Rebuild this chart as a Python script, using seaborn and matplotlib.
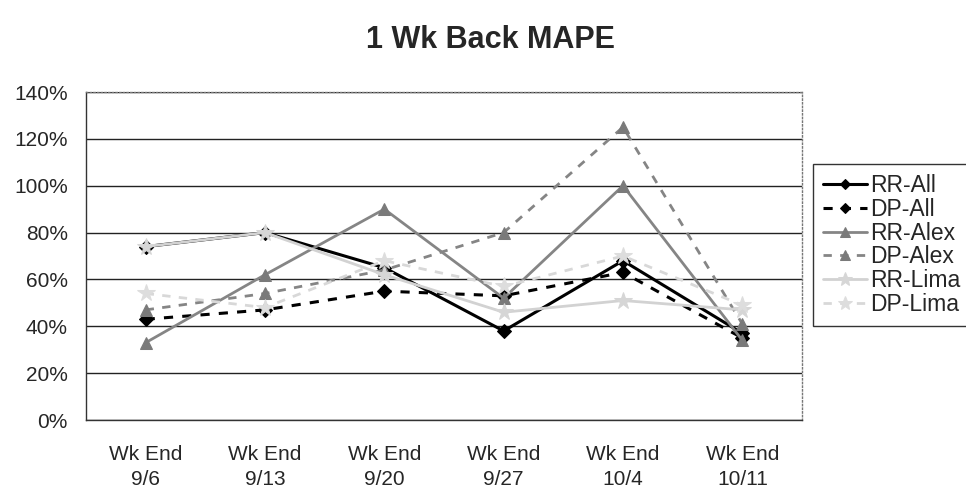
import numpy as np
import pandas as pd
import matplotlib
matplotlib.use("Agg")
import matplotlib.pyplot as plt
import seaborn as sns
from matplotlib.ticker import FixedLocator, PercentFormatter

categories = ["Wk End\n9/6", "Wk End\n9/13", "Wk End\n9/20", "Wk End\n9/27", "Wk End\n10/4", "Wk End\n10/11"]
rr_all = [74, 80, 65, 38, 68, 37]
dp_all = [43, 47, 55, 53, 63, 35]
rr_alex = [33, 62, 90, 52, 100, 34]
dp_alex = [47, 54, 64, 80, 125, 41]
rr_lima = [74, 80, 62, 46, 51, 47]
dp_lima = [54, 48, 68, 57, 70, 49]
series_names = ["RR-All", "DP-All", "RR-Alex", "DP-Alex", "RR-Lima", "DP-Lima"]
series_values = [rr_all, dp_all, rr_alex, dp_alex, rr_lima, dp_lima]

styles = {
    "RR-All":  dict(color="#000000", ls="-",  marker="D", ms=7, lw=2.2, mc="#000000"),
    "DP-All":  dict(color="#000000", ls=(0, (3, 3)), marker="D", ms=7, lw=2.2, mc="#000000"),
    "RR-Alex": dict(color="#858585", ls="-",  marker="^", ms=9, lw=2.0, mc="#7a7a7a"),
    "DP-Alex": dict(color="#858585", ls=(0, (3, 3)), marker="^", ms=9, lw=2.0, mc="#7a7a7a"),
    "RR-Lima": dict(color="#d2d2d2", ls="-",  marker="*", ms=13, lw=2.0, mc="#d6d6d6"),
    "DP-Lima": dict(color="#d8d8d8", ls=(0, (3, 3)), marker="*", ms=13, lw=2.0, mc="#dddddd"),
}

rows = []
for name, vals in zip(series_names, series_values):
    for i, v in enumerate(vals):
        rows.append({"series": name, "pos": i, "value": v})
df = pd.DataFrame(rows)

sns.set_style("white")
plt.rcParams["font.family"] = ["Liberation Sans", "DejaVu Sans"]

fig = plt.figure(figsize=(9.66, 4.94), dpi=100)
ax = fig.add_axes([86 / 966, 1 - 420 / 494, (802 - 86) / 966, (420 - 92) / 494])

for name in series_names:
    st = styles[name]
    sub = df[df["series"] == name]
    sns.lineplot(data=sub, x="pos", y="value", ax=ax, color=st["color"], lw=st["lw"],
                 linestyle=st["ls"], marker=st["marker"], markersize=st["ms"],
                 markerfacecolor=st["mc"], markeredgecolor=st["mc"], label=name,
                 legend=False)

ax.set_xlim(-0.5, len(categories) - 0.5)
ax.set_ylim(0, 140)
ax.set_yticks(np.arange(0, 141, 20))
ax.yaxis.set_major_formatter(PercentFormatter(decimals=0))
ax.set_xticks(np.arange(len(categories)))
ax.set_xticklabels(categories, linespacing=1.4)
ax.xaxis.set_minor_locator(FixedLocator(np.arange(-0.5, len(categories), 1.0)))
ax.tick_params(axis="x", which="major", length=0, pad=18, labelsize=15)
ax.tick_params(axis="x", which="minor", length=5, width=1, color="#333333", direction="out")
ax.tick_params(axis="y", which="major", length=5, width=1, color="#333333", direction="out",
               labelsize=15, pad=8)
ax.set_xlabel("")
ax.set_ylabel("")

ax.yaxis.grid(True, color="#222222", lw=1.0)
ax.set_axisbelow(True)
for s in ["left", "bottom"]:
    ax.spines[s].set_color("#333333")
    ax.spines[s].set_linewidth(1.0)
for s in ["top", "right"]:
    ax.spines[s].set_color("#777777")
    ax.spines[s].set_linestyle(":")
    ax.spines[s].set_linewidth(1.0)

fig.text(490 / 966, 1 - 40 / 494, "1 Wk Back MAPE", ha="center", va="center",
         fontsize=22, fontweight="bold")

leg = ax.legend(loc="upper left", bbox_to_anchor=(813 / 966, 1 - 164 / 494),
                bbox_transform=fig.transFigure, frameon=True, fontsize=16.5,
                handlelength=1.9, handletextpad=0.15, labelspacing=0.03,
                borderpad=0.45, borderaxespad=0, fancybox=False, markerscale=0.8)
leg.get_frame().set_edgecolor("#000000")
leg.get_frame().set_linewidth(1.0)

fig.savefig("out.png", dpi=100)
